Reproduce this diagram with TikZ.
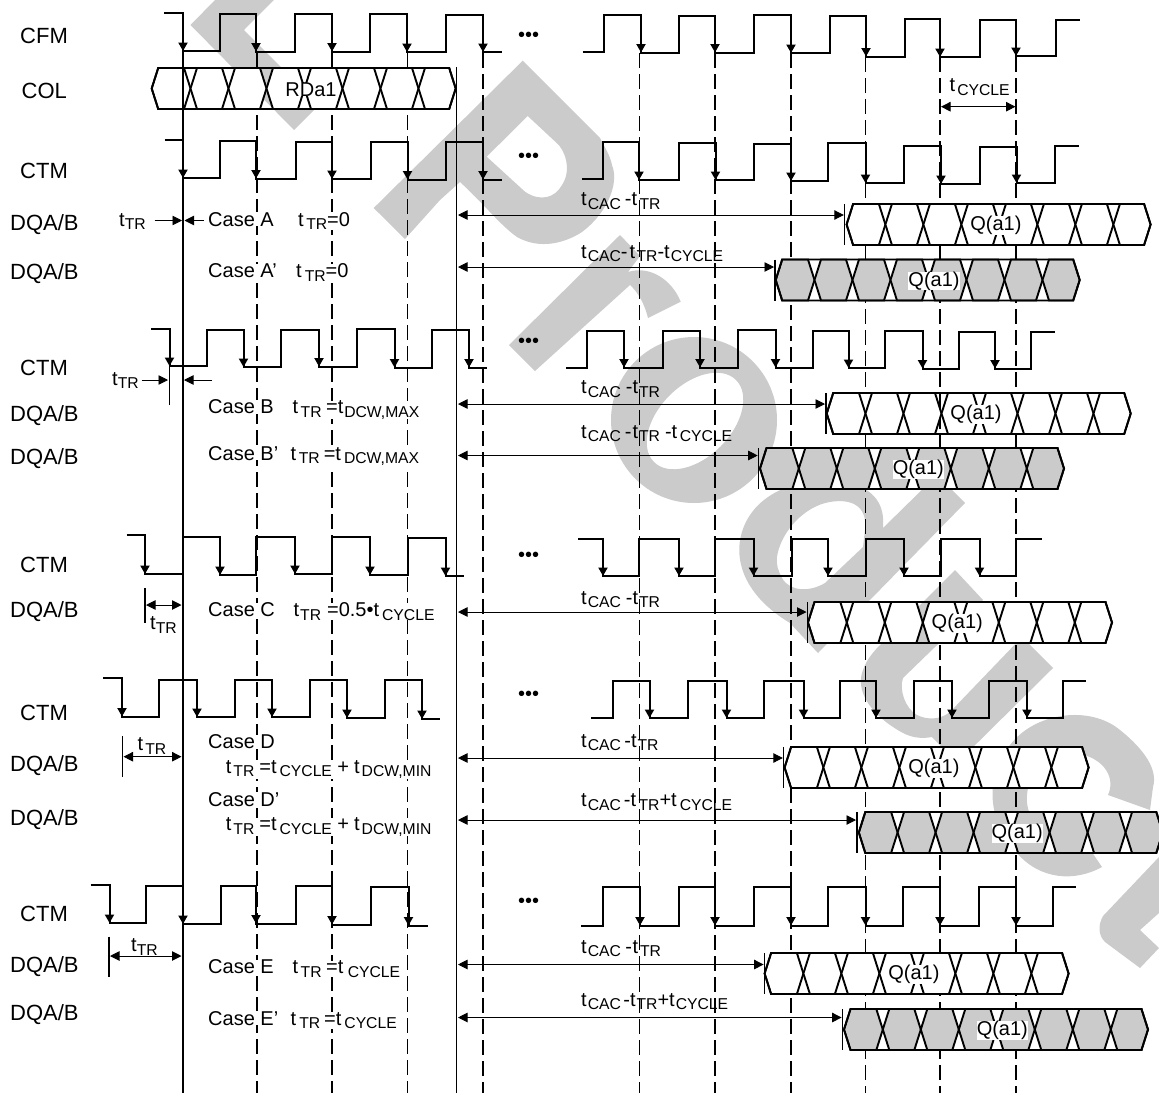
\documentclass[tikz,border=0pt]{standalone}
\usepackage{fontspec}
\setmainfont{Liberation Sans}
\usepackage{tikz}
\usetikzlibrary{arrows.meta,positioning}

\definecolor{markgray}{HTML}{CBCBCB}
\newcommand{\subt}[1]{{\fontsize{15.7}{18}\selectfont\raisebox{-3.5pt}{#1}}}
\newcommand{\gp}[1]{\hspace{#1pt}}
\newcommand{\databus}[6]{%
  \begin{scope}[shift={(#2,#3)}]
    \fill[white] (0,20.5) -- (6.5,0) -- (108.3,0) -- (114.8,20.5) -- (121.3,0) -- (297.5,0) -- (304,20.5)
      -- (297.5,41) -- (121.3,41) -- (114.8,20.5) -- (108.3,41) -- (6.5,41) -- cycle;
    \foreach \ca/\cb in {0/38.8, 38.8/76.8, 76.8/114.8, 114.8/152.8, 152.8/190.8, 190.8/228.8, 228.8/266.8, 266.8/304} {
      \filldraw[buscell, fill=#4] (\ca,20.5) -- (\ca+6.5,0) -- (\cb-6.5,0) -- (\cb,20.5) -- (\cb-6.5,41) -- (\ca+6.5,41) -- cycle;
    }
    \draw[buscell] (0,20.5) -- (6.5,0) -- (297.5,0) -- (304,20.5) -- (297.5,41) -- (6.5,41) -- cycle;
    \node[buslab] (#1) at (153.3+#6,21.5) {#5};
  \end{scope}}

\begin{document}
\begin{tikzpicture}[
  x=1pt, y=-1pt,
  font=\fontsize{20}{24}\selectfont,
  sigl/.style={font=\fontsize{22}{26}\selectfont, anchor=base west, inner sep=0pt},
  caselab/.style={anchor=base west, fill=white, inner sep=0pt},
  caclab/.style={anchor=base west, inner sep=0pt},
  dotlab/.style={inner sep=0pt},
  buslab/.style={fill=white, inner sep=0pt},
  buscell/.style={draw, line width=1.9pt, line join=miter},
  wave/.style={line width=2pt},
  falltip/.style={line width=2pt, -{Triangle[length=8.5pt,width=9pt]}},
  guide/.style={line width=1.1pt, dash pattern=on 15pt off 6pt},
  solidline/.style={line width=1.2pt},
  tickline/.style={line width=1.1pt},
  span/.style={line width=0.9pt, {Triangle[length=9.5pt,width=9.5pt]}-{Triangle[length=9.5pt,width=9.5pt]}},
  onearrow/.style={line width=0.9pt, -{Triangle[length=9.5pt,width=9.5pt]}},
]
  \useasboundingbox (0,0) rectangle (1159,1093);

  % watermark letters
  \begin{scope}[fill=markgray]
    \fill (190.5,25) -- (215,0) -- (273.8,0) -- (244,30) -- (319,105) -- (294,130) -- cycle;
    \fill[even odd rule] (373.7,208) -- (405,239) -- (440,200) -- (460,182) .. controls (485,205) and (500,225) .. (517,237)
      .. controls (540,250) and (565,243) .. (582,232) .. controls (605,215) and (620,185) .. (612,165)
      .. controls (610,155) and (605,148) .. (600,138) -- (522.7,60.7) -- cycle
      (527.7,116) -- (486.7,156.7) -- (525,191.7) .. controls (540,202) and (555,198) .. (562,185)
      .. controls (572,170) and (565,150) .. (556.7,143) -- cycle;
    \fill (509,345) -- (620,235) -- (640,256) -- (628,272) .. controls (650,265) and (672,280) .. (680.7,301.7)
      -- (648,318) .. controls (645,305) and (638,292) .. (630,285) -- (535,371) -- cycle;
    \fill[even odd rule] (694,420) circle (83pt)
      (736,380) .. controls (750.1,394.1) and (743.1,423.9) .. (720.5,446.5)
      .. controls (697.9,469.1) and (668.1,476.1) .. (654,462)
      .. controls (639.9,447.9) and (646.9,418.1) .. (669.5,395.5)
      .. controls (692.1,372.9) and (721.9,365.9) .. (736,380) -- cycle;
    \fill[even odd rule] (790,623) -- (818,653) -- (965,503) -- (937,475) -- (883,528)
      .. controls (885,505) and (875,490) .. (850,483) .. controls (815,475) and (770,485) .. (750,515)
      .. controls (730,545) and (735,590) .. (790,623) -- cycle
      (777,557) .. controls (780,535) and (800,510) .. (825,503) .. controls (850,497) and (868,505) .. (865,530)
      -- (863,547) -- (825,583) .. controls (810,592) and (790,592) .. (782,578) .. controls (778,570) and (776,565) .. (777,557) -- cycle;
    \fill (955,570) -- (983,600) -- (935,647) -- (903,678) .. controls (899,690) and (905,708) .. (917,715)
      .. controls (927,720) and (940,720) .. (950,712) -- (1022,637) -- (1053,668) -- (957,763) -- (932,737)
      .. controls (915,740) and (905,735) .. (893,727) .. controls (870,712) and (855,690) .. (863,670) .. controls (866,660) and (875,650) .. (880,645) -- cycle;
    \fill (1102,867) .. controls (1075,882) and (1040,880) .. (1017,853) .. controls (990,825) and (982,780) .. (1010,745)
      .. controls (1035,712) and (1090,705) .. (1120,730) .. controls (1145,750) and (1158,770) .. (1153,787)
      -- (1150,810) -- (1108,795) .. controls (1117,775) and (1100,755) .. (1073,753)
      .. controls (1040,752) and (1025,780) .. (1027,803) .. controls (1030,830) and (1060,850) .. (1085,842) -- cycle;
    \fill (1159,857) -- (1103,916) .. controls (1098,925) and (1098,935) .. (1105,942) -- (1140,968) -- (1159,948)
      -- (1140,930) -- (1159,913) -- cycle;
  \end{scope}

  % guides
  \foreach \x/\y in {257/52, 332/52, 407.5/52, 483/53, 639.5/53, 715/53, 791/53, 865.5/57, 940/57, 1016/57} {
    \draw[guide] (\x,\y) -- (\x,1093);
  }

  % clock rows
  \draw[wave] (164,13) -| (183,51) -| (219.5,13.5) -| (256,51.5) -| (295,14) -| (332,51.5) -| (370,14) -| (407,52) -| (445.5,14.5) -| (483,52) -- (502,52);
  \draw[wave] (582.5,52) -| (604,15) -| (641,52.5) -| (679,16) -| (715,52.5) -| (754,15) -| (791,53) -| (830,16) -| (866,56.5) -| (905,19) -| (940,57) -| (980,20) -| (1016,56) -| (1055.5,19.5) -- (1079.5,19.5);
  \foreach \x/\y in {183/51, 256/51.5, 332/51.5, 407/52, 483/52, 641/52.5, 715/52.5, 791/53, 866/56.5, 940/57, 1016/56} {
    \draw[falltip] (\x,\y-11) -- (\x,\y);
  }

  \draw[wave] (164.5,140) -| (183,178) -| (220,140.5) -| (256,178.5) -| (296,142) -| (332,179) -| (371,142) -| (407.5,179.5) -| (446,142) -| (483,179.5) -- (502,179.5);
  \draw[wave] (582,179) -| (603,142) -| (639,180) -| (678.5,143) -| (715.5,180) -| (754,143.5) -| (791,181) -| (828,143) -| (865.5,183) -| (904,146) -| (941,184) -| (979.5,147) -| (1016.5,183) -| (1054.5,146) -- (1078.5,146);
  \foreach \x/\y in {183/178, 256/178.5, 332/179, 407.5/179.5, 483/179.5, 639/180, 715.5/180, 791/181, 865.5/183, 941/184, 1016.5/183} {
    \draw[falltip] (\x,\y-11) -- (\x,\y);
  }

  \draw[wave] (151,328.5) -| (169.5,366) -| (206.5,329.5) -| (243.5,367) -| (281,329.5) -| (319,366.5) -| (357,329) -| (394.5,367.5) -| (432,330) -| (469,367.5) -- (487,367.5);
  \draw[wave] (566,367.5) -| (586.5,330.5) -| (624,367.5) -| (662.5,331) -| (700,367.5) -| (737.5,330) -| (775.5,367.5) -| (812.5,331) -| (848.5,368) -| (885,331) -| (922.5,368.5) -| (959,332) -| (995,368.5) -| (1031,332) -- (1054.5,332);
  \foreach \x/\y in {169.5/366, 243.5/367, 319/366.5, 394.5/367.5, 469/367.5, 624/367.5, 700/367.5, 775.5/367.5, 848.5/368, 922.5/368.5, 995/368.5} {
    \draw[falltip] (\x,\y-11) -- (\x,\y);
  }

  \draw[wave] (126.5,535) -| (145,574) -| (183,536.5) -| (220,575) -| (256,537) -| (295,574) -| (332,537) -| (370,575) -| (407.5,538) -| (445.5,576) -- (463.5,576);
  \draw[wave] (578,539) -| (603,576) -| (639,539) -| (679,576) -| (715,539) -| (753.5,576) -| (792,539) -| (828,576) -| (866,539) -| (904,576) -| (941,539) -| (979.5,576) -| (1016,539) -- (1041.5,539);
  \foreach \x/\y in {145/574, 220/575, 295/574, 370/575, 445.5/576, 603/576, 679/576, 753.5/576, 828/576, 904/576, 979.5/576} {
    \draw[falltip] (\x,\y-11) -- (\x,\y);
  }

  \draw[wave] (103,678) -| (122,716.5) -| (159,679.5) -| (197,717) -| (234.5,680) -| (272,717) -| (309.5,680) -| (347,718) -| (385,680) -| (422,719) -- (440,719);
  \draw[wave] (591,718) -| (612.5,681) -| (649.5,718) -| (688,681) -| (726.5,718) -| (763.5,681) -| (803.5,718) -| (839.5,681) -| (876,718) -| (913.5,681) -| (952,718) -| (989,681) -| (1027,718) -| (1063,681) -- (1086,681);
  \foreach \x/\y in {122/716.5, 197/717, 272/717, 347/718, 422/719, 649.5/718, 726.5/718, 803.5/718, 876/718, 952/718, 1027/718} {
    \draw[falltip] (\x,\y-11) -- (\x,\y);
  }

  \draw[wave] (90.5,885) -| (109.5,923) -| (146,886) -| (183,924) -| (221,886) -| (256,923.5) -| (296,886) -| (332,924.5) -| (371,887) -| (408.5,925.5) -- (427.5,925.5);
  \draw[wave] (581,925.5) -| (603,887) -| (640,925.5) -| (679,887) -| (715,925.5) -| (753.5,887) -| (791,925.5) -| (828,887) -| (865.5,925.5) -| (903,887) -| (940,925.5) -| (979,887) -| (1016,925.5) -| (1052.5,887) -- (1075.5,887);
  \foreach \x/\y in {109.5/923, 183/924, 256/923.5, 332/924.5, 408.5/925.5, 640/925.5, 715/925.5, 791/925.5, 865.5/925.5, 940/925.5, 1016/925.5} {
    \draw[falltip] (\x,\y-11) -- (\x,\y);
  }

  % buses and their spans
  \databus{rda}{151.7}{68}{white}{RDa1}{6}
  \foreach \n/\ay/\tk/\bx/\by/\cf/\dx in {
    a/215/844.8/846.6/204/white/-4, ap/267/775/775.7/259.5/markgray/5,
    b/404/826/826.7/393/white/-4, bp/455.5/758.7/760/448/markgray/5,
    c/612/807.5/808/602/white/-4, d/758/783.8/784.6/747/white/-4,
    dp/820/857/858.8/812/markgray/5, e/964.5/764.6/764.6/953/white/-4,
    ep/1017.5/842.6/844/1009/markgray/5} {
    \databus{bus\n}{\bx}{\by}{\cf}{Q(a1)}{\dx}
    \coordinate (tick\n) at (\tk,\by);
    \coordinate (tickend\n) at (\tk,\by+41);
    \draw[tickline] (tick\n) -- (tickend\n);
    \coordinate (cacl\n) at (458,\ay);
    \coordinate (cacr\n) at (\tk-1,\ay);
    \draw[span] (cacl\n) -- (cacr\n);
  }

  % solid verticals
  \coordinate (topa) at (183,51);
  \coordinate (bota) at (183,1093);
  \coordinate (topb) at (456.5,67);
  \coordinate (botb) at (456.5,1093);
  \draw[solidline] (topa) -- (bota);
  \draw[solidline] (topb) -- (botb);

  % row names
  \node[sigl] (cfm) at (20,43.5) {CFM};
  \node[sigl] (col) at (21.5,98) {COL};
  \foreach \n/\y in {1/178.7, 2/375, 3/572.7, 4/720, 5/921.7} {
    \node[sigl] (ctm\n) at (20,\y) {CTM};
  }
  \foreach \n/\y in {1/230, 2/279, 3/421.7, 4/464.3, 5/617.7, 6/771, 7/825.7, 8/972.7, 9/1020.7} {
    \node[sigl] (dq\n) at (10,\y) {DQA/B};
  }
  \foreach \n/\y in {1/37, 2/157.5, 3/343, 4/557, 5/696, 6/903} {
    \node[dotlab] (dots\n) at (528.5,\y) {•••};
  }

  % case labels
  \node[caselab] (casea) at (208,226) {Case A};
  \node[caselab] (caseap) at (208,277.5) {Case A'};
  \node[caselab] (caseb) at (208,413.5) {Case B};
  \node[caselab] (casebp) at (208,460) {Case B'};
  \node[caselab] (casec) at (208,616.5) {Case C};
  \node[caselab] (cased) at (208,748.5) {Case D};
  \node[caselab] (casedp) at (208,806) {Case D'};
  \node[caselab] (casee) at (208,973.5) {Case E};
  \node[caselab] (caseep) at (208,1025) {Case E'};

  \node[caselab] (conda) at (298,226) {t\gp{2.5}\subt{TR}=0};
  \node[caselab] (condap) at (296,277.5) {t\gp{3}\subt{TR}=0};
  \node[caselab] (condb) at (292.3,413.5) {t\gp{2.6}\subt{TR}\gp{4.5}=t\gp{1}\subt{DCW,MAX}};
  \node[caselab] (condbp) at (290.5,460) {t\gp{2.6}\subt{TR}\gp{4}=t\gp{3}\subt{DCW,MAX}};
  \node[caselab] (condc) at (293.4,616.5) {t\gp{1}\subt{TR}\gp{6}=0.5•t\gp{3}\subt{CYCLE}};
  \node[caselab] (condd) at (225.7,773) {t\gp{2}\subt{TR}\gp{5}=t\gp{3}\subt{CYCLE}\gp{5.5}+\gp{5}t\gp{2}\subt{DCW,MIN}};
  \node[caselab] (conddp) at (225.7,830.5) {t\gp{2}\subt{TR}\gp{5}=t\gp{3}\subt{CYCLE}\gp{5.5}+\gp{5}t\gp{2}\subt{DCW,MIN}};
  \node[caselab] (conde) at (292.3,973.5) {t\gp{2.6}\subt{TR}\gp{4.5}=t\gp{4.5}\subt{CYCLE}};
  \node[caselab] (condep) at (290.5,1025) {t\gp{3}\subt{TR}\gp{4}=t\gp{3}\subt{CYCLE}};

  % span labels
  \node[caclab] (caca) at (581,205.5) {t\gp{1}\subt{CAC}\gp{4}-t\gp{2.5}\subt{TR}};
  \node[caclab] (cacap) at (581,258) {t\gp{1}\subt{CAC}-\gp{2}t\gp{1.5}\subt{TR}-t\gp{1}\subt{CYCLE}};
  \node[caclab] (cacb) at (581,393.5) {t\gp{1}\subt{CAC}\gp{5}-t\gp{1}\subt{TR}};
  \node[caclab] (cacbp) at (581,438) {t\gp{1}\subt{CAC}\gp{4}-\gp{1}t\gp{1}\subt{TR}\gp{5}-t\gp{2.5}\subt{CYCLE}};
  \node[caclab] (cacc) at (581,604) {t\gp{1}\subt{CAC}\gp{5}-t\gp{1}\subt{TR}};
  \node[caclab] (cacd) at (581,747) {t\gp{1}\subt{CAC}\gp{3.5}-t\gp{1}\subt{TR}};
  \node[caclab] (cacdp) at (581,806.5) {t\gp{1}\subt{CAC}\gp{3}-t\gp{2.5}\subt{TR}+t\gp{3}\subt{CYCLE}};
  \node[caclab] (cace) at (581,953) {t\gp{1}\subt{CAC}\gp{4.5}-\gp{0.5}t\gp{2}\subt{TR}};
  \node[caclab] (cacep) at (581,1006) {t\gp{1}\subt{CAC}\gp{2.5}-t\gp{1}\subt{TR}+t\gp{1}\subt{CYCLE}};

  % edge offset markers
  \node[caclab] (tra) at (119,226) {t\subt{TR}};
  \coordinate (train) at (154.5,220.5);
  \coordinate (traout) at (182,220.5);
  \coordinate (trbin) at (203.5,220.5);
  \coordinate (trbout) at (184.5,220.5);
  \draw[onearrow] (train) -- (traout);
  \draw[onearrow] (trbin) -- (trbout);

  \node[caclab] (trb) at (112,385) {t\subt{TR}};
  \coordinate (trcin) at (141.5,380);
  \coordinate (trcout) at (168,380);
  \coordinate (trdin) at (212,380);
  \coordinate (trdout) at (184,380);
  \coordinate (tricka) at (169.5,365);
  \coordinate (trickb) at (169.5,404.5);
  \draw[onearrow] (trcin) -- (trcout);
  \draw[onearrow] (trdin) -- (trdout);
  \draw[tickline] (tricka) -- (trickb);

  \foreach \n/\tk/\ta/\tb/\ay/\lx/\ly/\gap in {c/145/588/622.7/605/150/629.5/0pt, d/122.5/736/777.3/756.7/137.5/750.5/2pt, e/109/936.7/977.3/956/131/951.5/0pt} {
    \coordinate (trtop\n) at (\tk,\ta);
    \coordinate (trbot\n) at (\tk,\tb);
    \draw[tickline] (trtop\n) -- (trbot\n);
    \coordinate (trl\n) at (\tk+1,\ay);
    \coordinate (trr\n) at (181.5,\ay);
    \draw[span] (trl\n) -- (trr\n);
    \node[caclab] (trlab\n) at (\lx,\ly) {t\hspace{\gap}\subt{TR}};
  }

  % cycle span
  \coordinate (cyl) at (941,106.7);
  \coordinate (cyr) at (1015.5,106.7);
  \coordinate (cyta) at (940,99);
  \coordinate (cytb) at (940,114);
  \draw[span] (cyl) -- (cyr);
  \draw[tickline] (cyta) -- (cytb);
  \node[caclab] (cyc) at (949.5,91.5) {t\gp{2}\subt{CYCLE}};
\end{tikzpicture}
\end{document}
